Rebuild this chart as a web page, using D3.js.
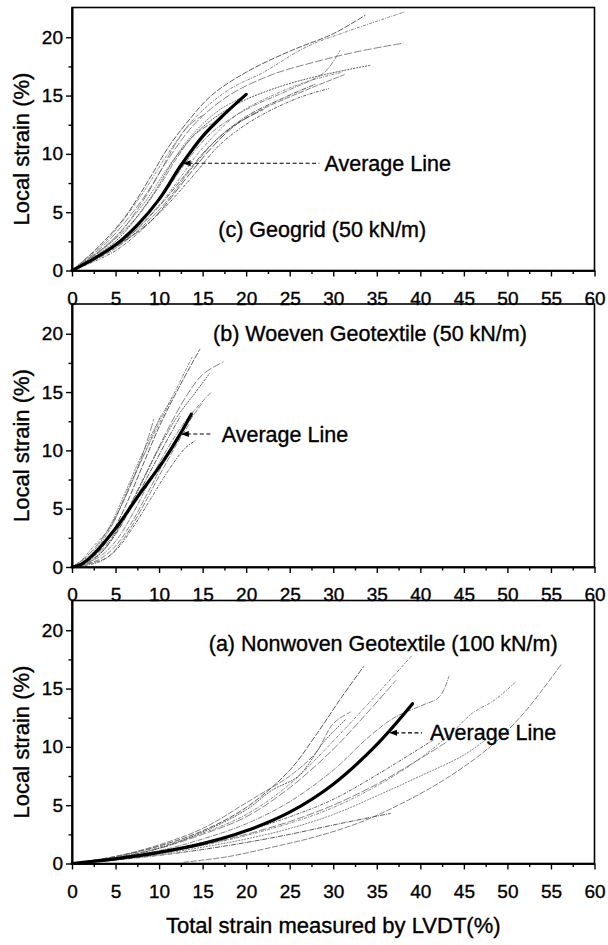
<!DOCTYPE html>
<html>
<head>
<meta charset="utf-8">
<script src="https://cdn.jsdelivr.net/npm/d3@7"></script>
<style>
  body { margin: 0; background: #fff; }
  svg { display: block; font-family: "Liberation Sans", Arial, Helvetica, sans-serif; }
  svg text { stroke: #000; stroke-width: 0.35px; }
</style>
</head>
<body>
<svg id="chart" width="608" height="945"></svg>
<script>
const xTicks = d3.range(0, 61, 5);
const yTicks = [0, 5, 10, 15, 20];
const xMinor = d3.range(2.5, 60, 5);
const yMinor = [2.5, 7.5, 12.5, 17.5];

const panelNames = [
    "(c) Geogrid (50 kN/m)",
    "(b) Woeven Geotextile (50 kN/m)",
    "(a) Nonwoven Geotextile (100 kN/m)"
];
const avgLabel = "Average Line";
const yTitle = "Local strain (%)";
const xTitle = "Total strain measured by LVDT(%)";

// (c) geogrid, 50 kN/m
const geogridAvg = [[0,0],[2.5,1.0],[5,2.2],[7.5,3.9],[10,6.1],[12.5,9.0],[15,11.5],[17.5,13.4],[20,15.1]];
const geogridTrials = [
    [[0,0],[3,2],[6,4.5],[9,8],[11,10.5],[13,12.5],[16,15],[20,17],[25,18.8],[30,20.3],[33.7,21.9]],
    [[0,0],[4,2.6],[8,6.5],[11,10],[14,13],[18,15.5],[22,17],[27,19.2],[32,20.6],[38.3,22.2]],
    [[0,0],[4,2.4],[8,6],[11,9.5],[14,12.5],[18,15],[23,16.8],[28,17.9],[33,18.8],[38.1,19.5]],
    [[0,0],[5,2.5],[9,6.2],[12,9.8],[15,12.3],[19,14.3],[24,15.8],[29,16.8],[34.3,17.6]],
    [[0,0],[5,2.2],[10,6],[13,9.2],[16,11.8],[20,13.8],[25,15.5],[29,17],[30.8,18.9]],
    [[0,0],[5,1.9],[10,5.2],[14,9],[17,11.5],[21,13.5],[26,15.2],[31.3,16.8]],
    [[0,0],[5,1.7],[10,4.9],[14,8.2],[17,10.8],[21,13],[26,14.8],[29.5,15.6]],
    [[0,0],[5,2.8],[8,5.8],[10,8.3],[12,11],[13.5,12.5],[15,13.3]],
    [[0,0],[4,2.2],[8,5.5],[11,8.8],[14,11.8],[17,13.8],[20,15]],
    [[0,0],[6,2.6],[10,5.5],[13,8.2],[16,10.8],[20,13.2],[24,14.7],[28,16]],
    [[0,0],[3,1.5],[7,4.2],[10,7.2],[12,9.6],[14,11.6],[16,12.6]],
    [[0,0],[5,2],[10,5.6],[15,10.5],[19,13.4],[23,15],[27,16.2],[31,17]],
    [[0,0],[4,1.6],[9,4.2],[13,7.8],[16,10.5],[19,12.6],[22,13.8]]
];

// (b) woven geotextile, 50 kN/m
const wovenAvg = [[0,0],[1,0.2],[2.5,1.1],[5.1,3.4],[7.8,6.3],[10.5,9.1],[12.5,11.5],[13.7,13.1]];
const wovenTrials = [
    [[0,0],[2,0.6],[4,2.2],[6,5],[8,8.5],[10,12],[12,15],[14.7,18.7]],
    [[0,0],[2,0.8],[4,2.8],[6,5.8],[8,9.2],[10,12.3],[12,15.3],[13.8,18]],
    [[0,0],[3,1.2],[5,3],[7,5.8],[9,8.8],[11,11.8],[13,14.5],[15,16.5],[17.4,17.6]],
    [[0,0],[2,0.4],[4,1.8],[6,4.2],[8,7.2],[10,10.2],[12,12.8],[14,14.8],[15.8,16.6]],
    [[0,0],[3,0.8],[5,2.2],[7,4.6],[9,7.5],[11,10.2],[13,12.5],[14.5,13.8],[16,15]],
    [[0,0],[3,0.6],[5,1.8],[7,4],[9,6.8],[11,9.6],[13,12],[14.9,14]],
    [[0,0],[3,0.4],[5,1.4],[7,3.4],[9,5.8],[11,8.2],[13,10.2],[14.3,10.9]],
    [[0,0],[1.5,0.8],[3,2],[5,4.3],[7,7.5],[8.5,10.5],[9.4,12.7]],
    [[0,0],[2,1],[4,3],[6,6.2],[8,9.6],[10,12.6],[11.5,14.5]],
    [[0,0],[3,1],[5,2.8],[7,5.4],[9,8.2],[11,11],[12.5,13]],
    [[0,0],[4,0.8],[6,2.5],[8,5],[10,7.8],[12,10.5],[13.5,12.3]],
    [[0,0],[1,0.5],[2.5,1.8],[4.5,3.5],[6.5,6.8],[8.5,10],[10.2,13]]
];

// (a) nonwoven geotextile, 100 kN/m
const nonwovenAvg = [[0,0],[5,0.4],[10,0.95],[15,1.7],[20,2.8],[25,4.4],[30,6.8],[35,10.2],[39.1,13.7]];
const nonwovenTrials = [
    [[0,0],[5,0.6],[10,1.5],[15,2.8],[20,4.8],[25,8],[28,11],[31,14.3],[33.5,16.9]],
    [[0,0],[5,0.6],[10,1.4],[15,2.6],[20,4.2],[25,6.8],[30,10.5],[35,14.5],[39,17.8]],
    [[0,0],[5,0.5],[10,1.3],[15,2.5],[20,4],[25,6.5],[30,9.8],[34,13],[37.2,15.7]],
    [[0,0],[5,0.5],[10,1.3],[15,2.7],[20,4.6],[23,6.3],[26,7.5],[29,10.5],[31.5,12.4]],
    [[0,0],[5,0.5],[10,1.1],[15,2.1],[20,3.4],[25,5.3],[30,8],[34,10.8],[37,12.5],[40,13.5],[42.2,14.3],[43.3,16.1]],
    [[0,0],[5,0.6],[10,1.6],[15,3],[20,5.2],[22,6.1],[25,7.5],[28,9.5],[30,12],[32,13]],
    [[0,0],[5,0.4],[10,1],[15,1.8],[20,2.8],[25,4],[30,5.5],[35,7.6],[41.5,10.6]],
    [[0,0],[5,0.4],[10,0.9],[15,1.6],[20,2.5],[25,3.6],[30,5],[35,6.8],[40,9],[43,10.4]],
    [[0,0],[5,0.35],[10,0.8],[15,1.4],[20,2.1],[25,3],[30,4.2],[35,5.8],[40,7.5],[45,9.3],[47.5,10.6]],
    [[0,0],[5,0.3],[10,0.7],[15,1.2],[20,1.8],[25,2.5],[30,3.3],[36.6,4.3]],
    [[12.8,0.1],[18,0.6],[23,1.4],[28,2.3],[33,3.5],[38,5.2],[43,7.3],[48,10],[52,13],[56.2,17.1]],
    [[0,0],[10,0.9],[20,2.4],[30,4.8],[38,8],[43,10.8],[46,12.9],[48.5,14],[51,15.6]]
];

const svg = d3.select("#chart");
const x = d3.scaleLinear().domain([0, 60]).range([72, 594.5]);
const panelHeight = 263;

// layout of the three stacked panels, top to bottom
const panels = [
    { top: 7.5,   avg: geogridAvg,  trials: geogridTrials,  name: panelNames[0], nameAt: [16.8, 3.5],
      tip: [12.7, 9.2], dashTo: 28.4, textAt: 29.0 },
    { top: 304,   avg: wovenAvg,    trials: wovenTrials,    name: panelNames[1], nameAt: [16.2, 20],
      tip: [12.5, 11.4], dashTo: 16.1, textAt: 17.2 },
    { top: 600.5, avg: nonwovenAvg, trials: nonwovenTrials, name: panelNames[2], nameAt: [15.7, 18.9],
      tip: [36.4, 11.2], dashTo: 40.2, textAt: 41.1 }
];

const dashes = ["6,1.5", "3,1.2,1,1.2", "8,2", "2,1", "5,1,1,1"];

panels.forEach((p, i) => {
    const y = d3.scaleLinear().domain([0, 22.55]).range([p.top + panelHeight, p.top]);
    const g = svg.append("g");

    const line = d3.line()
        .x(d => x(d[0]))
        .y(d => y(d[1]))
        .curve(d3.curveCatmullRom.alpha(0.5));

    g.selectAll("path.trial")
        .data(p.trials)
        .join("path")
        .attr("class", "trial")
        .attr("d", line)
        .attr("fill", "none")
        .attr("stroke", (d, j) => j % 3 === 0 ? "#333" : "#666")
        .attr("stroke-width", 0.8)
        .attr("stroke-dasharray", (d, j) => dashes[j % dashes.length]);

    g.append("path")
        .datum(p.avg)
        .attr("d", line)
        .attr("fill", "none")
        .attr("stroke", "#000")
        .attr("stroke-width", 3.2)
        .attr("stroke-linecap", "round");

    // frame
    g.append("rect")
        .attr("x", x(0))
        .attr("y", p.top)
        .attr("width", x(60) - x(0))
        .attr("height", panelHeight)
        .attr("fill", "none")
        .attr("stroke", "#000")
        .attr("stroke-width", 1.6);

    // axes
    const bottom = g.append("g")
        .attr("transform", `translate(0,${y(0)})`)
        .call(d3.axisBottom(x).tickValues(xTicks).tickSize(6).tickSizeOuter(0).tickPadding(15));
    g.append("g")
        .attr("transform", `translate(0,${y(0)})`)
        .call(d3.axisBottom(x).tickValues(xMinor).tickSize(3.5).tickSizeOuter(0).tickFormat(""));
    const left = g.append("g")
        .attr("transform", `translate(${x(0)},0)`)
        .call(d3.axisLeft(y).tickValues(yTicks).tickSize(6).tickSizeOuter(0).tickPadding(3));
    g.append("g")
        .attr("transform", `translate(${x(0)},0)`)
        .call(d3.axisLeft(y).tickValues(yMinor).tickSize(3.5).tickSizeOuter(0).tickFormat(""));

    g.selectAll(".domain").attr("stroke", "#000").attr("stroke-width", 1.6);
    g.selectAll(".tick line").attr("stroke", "#000").attr("stroke-width", 1.4);
    [bottom, left].forEach(a => a.attr("font-family", null).attr("font-size", 19)
        .selectAll("text").attr("fill", "#000"));

    // y title
    g.append("text")
        .attr("transform", `translate(29,${p.top + panelHeight / 2 + 10}) rotate(-90)`)
        .attr("text-anchor", "middle")
        .attr("font-size", 22)
        .text(yTitle);

    // panel name
    g.append("text")
        .attr("x", x(p.nameAt[0]))
        .attr("y", y(p.nameAt[1]))
        .attr("dy", "0.35em")
        .attr("font-size", 21.5)
        .text(p.name);

    // average line call-out
    const tx = x(p.tip[0]), ty = y(p.tip[1]);
    g.append("line")
        .attr("x1", tx + 6).attr("y1", ty)
        .attr("x2", x(p.dashTo)).attr("y2", ty)
        .attr("stroke", "#000")
        .attr("stroke-width", 1.1)
        .attr("stroke-dasharray", "4,2.5");
    g.append("path")
        .attr("d", `M${tx},${ty}L${tx + 8},${ty - 3}L${tx + 8},${ty + 3}Z`)
        .attr("fill", "#000");
    g.append("text")
        .attr("x", x(p.textAt))
        .attr("y", ty)
        .attr("dy", "0.35em")
        .attr("font-size", 21.5)
        .text(avgLabel);
});

svg.append("text")
    .attr("x", (x(0) + x(60)) / 2)
    .attr("y", 933)
    .attr("text-anchor", "middle")
    .attr("font-size", 22)
    .text(xTitle);
</script>
</body>
</html>
